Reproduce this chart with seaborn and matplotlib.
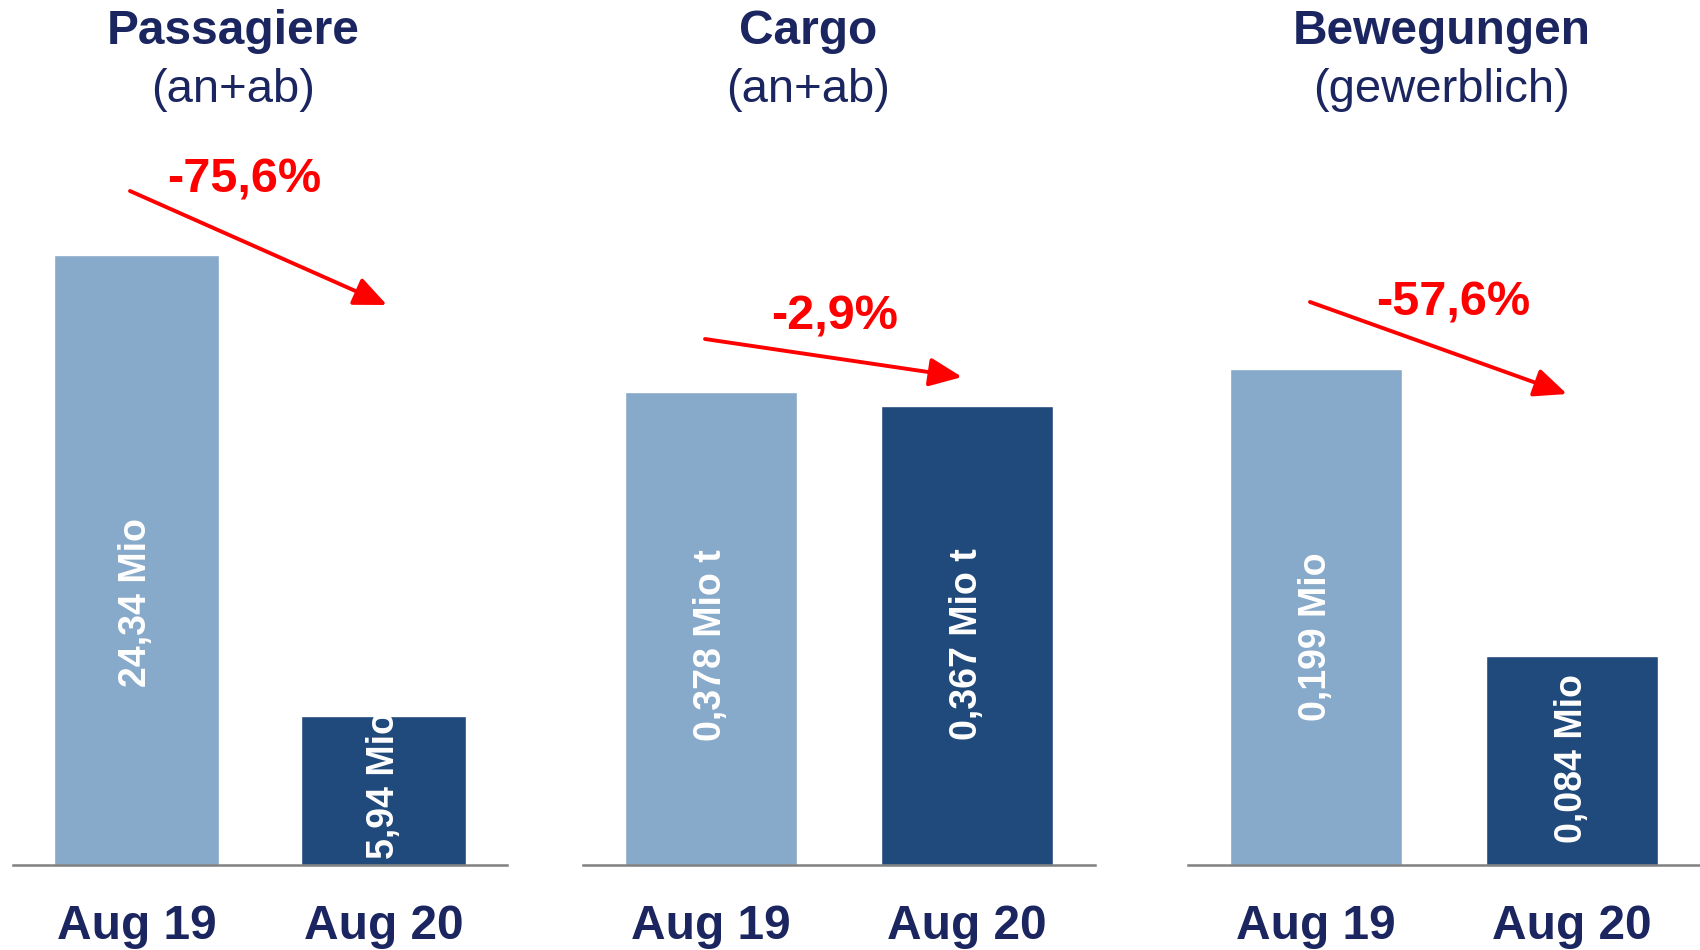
import matplotlib
matplotlib.use("Agg")
import matplotlib.pyplot as plt
import seaborn as sns
import pandas as pd

# data
periods = ["Aug 19", "Aug 20"]
passagiere = [24.34, 5.94]
cargo = [0.378, 0.367]
bewegungen = [0.199, 0.084]
bar_labels = [["24,34 Mio", "5,94 Mio"],
              ["0,378 Mio t", "0,367 Mio t"],
              ["0,199 Mio", "0,084 Mio"]]
titles = ["Passagiere", "Cargo", "Bewegungen"]
subtitles = ["(an+ab)", "(an+ab)", "(gewerblich)"]
changes = ["-75,6%", "-2,9%", "-57,6%"]

sns.set_theme(style="white")
plt.rcParams["font.family"] = ["Liberation Sans", "DejaVu Sans"]

W, H = 1700, 950
fig = plt.figure(figsize=(17, 9.5), dpi=100)

navy = "#1b2660"
light = "#87a9ca"
dark = "#204a7c"

# layout (pixels, top-left origin)
ax_x = [(13, 507), (583, 1095), (1188, 1700)]
ax_top, ax_base = 200, 865
ymax = [26.53, 0.5314, 0.2668]
title_x = [233, 808, 1442]
pct_pos = [(244, 180), (835, 317), (1453, 303)]
arrows = [((130, 191), (387, 305)), ((705, 339), (962, 377)), ((1310, 302), (1567, 394))]
label_frac = [[0.43, 0.54], [0.465, 0.48], [0.46, 0.51]]

series = [passagiere, cargo, bewegungen]

for i, vals in enumerate(series):
    x0, x1 = ax_x[i]
    ax = fig.add_axes([x0 / W, 1 - ax_base / H, (x1 - x0) / W, (ax_base - ax_top) / H])
    df = pd.DataFrame({"period": periods, "value": vals})
    sns.barplot(data=df, x="period", y="value", hue="period",
                palette=[light, dark], width=0.67, legend=False, ax=ax, saturation=1)
    ax.set_ylim(0, ymax[i])
    ax.set_xlim(-0.5, 1.5)
    ax.set_xlabel("")
    ax.set_ylabel("")
    ax.set_yticks([])
    for s in ["top", "left", "right"]:
        ax.spines[s].set_visible(False)
    ax.spines["bottom"].set_color("#808080")
    ax.spines["bottom"].set_linewidth(1.8)
    ax.tick_params(axis="x", length=0, pad=28)
    for t in ax.get_xticklabels():
        t.set_fontsize(34.5)
        t.set_fontweight("bold")
        t.set_color(navy)
    for j, v in enumerate(vals):
        ax.text(j, v * label_frac[i][j], bar_labels[i][j], rotation=90,
                ha="center", va="center", color="white", fontsize=27,
                fontweight="bold", clip_on=False)

    fig.text(title_x[i] / W, 1 - 32 / H, titles[i], ha="center", va="center",
             fontsize=34.5, fontweight="bold", color=navy)
    fig.text(title_x[i] / W, 1 - 90 / H, subtitles[i], ha="center", va="center",
             fontsize=34, color=navy)
    px, py = pct_pos[i]
    fig.text(px / W, 1 - py / H, changes[i], ha="center", va="center",
             fontsize=35, fontweight="bold", color="#ff0000")
    (sx, sy), (ex, ey) = arrows[i]
    ax.annotate("", xy=(ex, H - ey), xytext=(sx, H - sy),
                xycoords="figure pixels", textcoords="figure pixels",
                annotation_clip=False,
                arrowprops=dict(arrowstyle="-|>,head_length=0.8,head_width=0.35",
                                color="#ff0000", lw=2.8, mutation_scale=25,
                                shrinkA=0, shrinkB=0))

fig.savefig("out.png", dpi=100)
